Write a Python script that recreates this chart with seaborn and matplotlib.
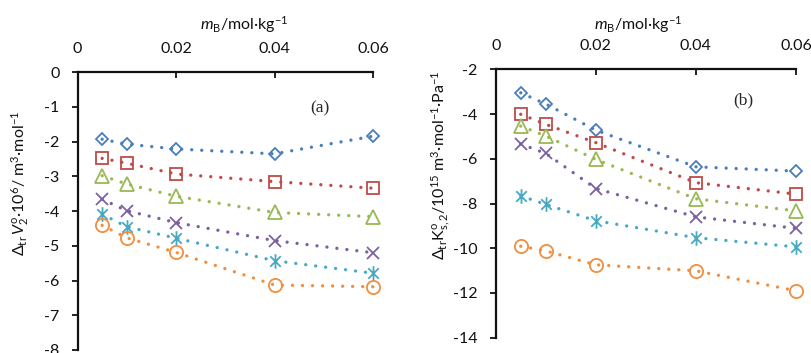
import numpy as np
import pandas as pd
import matplotlib
matplotlib.use("Agg")
import matplotlib.pyplot as plt
from matplotlib.path import Path
import seaborn as sns

# ---- data ----
m_B = [0.005, 0.01, 0.02, 0.04, 0.06]
x_ticks = [0, 0.02, 0.04, 0.06]
x_ticklabels = ["0", "0.02", "0.04", "0.06"]

# panel (a): Delta_tr V2o * 10^6
a_diamond = [-1.93, -2.07, -2.21, -2.35, -1.84]
a_square = [-2.48, -2.62, -2.93, -3.15, -3.34]
a_triangle = [-2.98, -3.22, -3.57, -4.04, -4.16]
a_cross = [-3.66, -3.99, -4.33, -4.85, -5.20]
a_star = [-4.09, -4.45, -4.78, -5.43, -5.79]
a_circle = [-4.41, -4.77, -5.19, -6.13, -6.18]
a_yticks = [0, -1, -2, -3, -4, -5, -6, -7, -8]

# panel (b): Delta_tr K S,2 * 10^15
b_diamond = [-3.05, -3.55, -4.72, -6.36, -6.55]
b_square = [-4.01, -4.46, -5.28, -7.07, -7.58]
b_triangle = [-4.54, -4.98, -6.03, -7.79, -8.33]
b_cross = [-5.34, -5.76, -7.33, -8.60, -9.11]
b_star = [-7.66, -8.04, -8.77, -9.53, -9.94]
b_circle = [-9.91, -10.12, -10.74, -11.01, -11.90]
b_yticks = [-2, -4, -6, -8, -10, -12, -14]

colors = ["#4A7EBB", "#BE4B48", "#98B954", "#7D60A0", "#46AAC5", "#F28E3C"]
star_path = Path([(0, -1), (0, 1), (-0.72, -0.72), (0.72, 0.72), (-0.72, 0.72), (0.72, -0.72)],
                 [Path.MOVETO, Path.LINETO, Path.MOVETO, Path.LINETO, Path.MOVETO, Path.LINETO])
markers = ["D", "s", "^", "x", star_path, "o"]
msizes = [6.3, 9.0, 9.5, 9.0, 10.5, 9.5]

sns.set_theme(style="white")
plt.rcParams["font.family"] = ["Lato", "DejaVu Sans"]
plt.rcParams["mathtext.fontset"] = "custom"
plt.rcParams["mathtext.rm"] = "Lato"
plt.rcParams["mathtext.it"] = "Lato:italic"
plt.rcParams["mathtext.bf"] = "Lato:bold"

fig = plt.figure(figsize=(8.11, 3.53), dpi=100)
W, H = 811, 353

def px_axes(x0, x1, ytop, ybot):
    return fig.add_axes([x0 / W, 1 - ybot / H, (x1 - x0) / W, (ybot - ytop) / H])

ax_a = px_axes(77.5, 373, 72.3, 349.9)
ax_b = px_axes(495.7, 796, 69.3, 337.7)

def draw(ax, series, ylim, yticks):
    for vals, c, mk, ms in zip(series, colors, markers, msizes):
        sns.lineplot(x=m_B, y=vals, ax=ax, color=c, linestyle=(0, (0.01, 3.0)),
                     linewidth=2.4, dash_capstyle="round", marker=mk, markersize=ms,
                     markerfacecolor="none", markeredgecolor=c, markeredgewidth=1.3,
                     clip_on=False)
    ax.set_xlim(0, 0.06)
    ax.set_ylim(*ylim)
    ax.set_xticks(x_ticks)
    ax.set_xticklabels(x_ticklabels)
    ax.set_yticks(yticks)
    ax.set_yticklabels([str(t) for t in yticks])
    ax.xaxis.tick_top()
    for s in ["right", "bottom"]:
        ax.spines[s].set_visible(False)
    for s in ["left", "top"]:
        ax.spines[s].set_linewidth(1.6)
        ax.spines[s].set_color("#111111")
    ax.tick_params(axis="x", direction="in", length=4, width=1.3, pad=12,
                   labelsize=11.5, colors="#111111", top=True, bottom=False)
    ax.tick_params(axis="y", direction="out", length=4, width=1.3, pad=9,
                   labelsize=11.5, colors="#111111", left=True)
    ax.set_xlabel("")
    ax.set_ylabel("")
    ax.grid(False)
    ax.set_facecolor("none")

draw(ax_a, [a_diamond, a_square, a_triangle, a_cross, a_star, a_circle], (-8, 0), a_yticks)
draw(ax_b, [b_diamond, b_square, b_triangle, b_cross, b_star, b_circle], (-14, -2), b_yticks)

ax_a.text(0.0493, -1.03, "(a)", family="Liberation Serif", fontsize=12.5, ha="center", va="center")
ax_b.text(0.0494, -3.37, "(b)", family="Liberation Serif", fontsize=12.5, ha="center", va="center")

xl = r"$m_{\mathrm{B}}$/mol·kg$^{-1}$"
fig.text(244 / W, 1 - 25 / H, xl, fontsize=11.5, ha="center", va="center", color="#111111")
fig.text(638 / W, 1 - 25 / H, xl, fontsize=11.5, ha="center", va="center", color="#111111")

fig.text(20 / W, 1 - 183 / H,
         r"$\Delta_{\mathrm{tr}}\,V_{2}^{\mathrm{o}}$·10$^{6}$/ m$^{3}$·mol$^{-1}$",
         rotation=90, fontsize=11.5, ha="center", va="center", color="#111111")
fig.text(441 / W, 1 - 165 / H,
         r"$\Delta_{\mathrm{tr}}\mathrm{K}^{\mathrm{o}}_{\mathrm{s,2}}$/10$^{15}$ m$^{3}$·mol$^{-1}$·Pa$^{-1}$",
         rotation=90, fontsize=11.5, ha="center", va="center", color="#111111")

fig.savefig("out.png", dpi=100)
